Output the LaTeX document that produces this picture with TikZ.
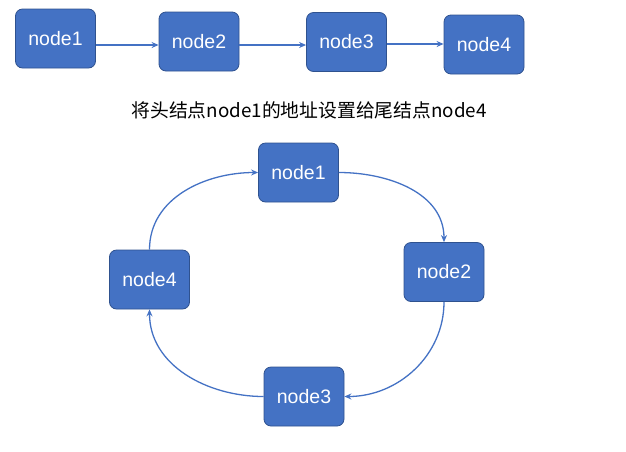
\documentclass[tikz,border=0pt]{standalone}
\usepackage{fontspec}
\setmainfont{Liberation Sans}
\newfontfamily\cjk{Noto Sans CJK SC}
\usetikzlibrary{arrows.meta}
\definecolor{boxfill}{HTML}{4472C4}
\definecolor{boxline}{HTML}{2F528F}
\tikzset{
  nodebox/.style={draw=boxline, fill=boxfill, line width=0.8pt, rounded corners=7pt,
    minimum width=80pt, minimum height=59pt, text=white, font=\fontsize{19.5}{22}\selectfont, inner sep=0pt},
  link/.style={draw=boxfill, line width=1.3pt, -{Stealth[length=7pt,width=6pt]}},
}
\begin{document}
\begin{tikzpicture}[x=1pt,y=-1pt]
\useasboundingbox (0,0) rectangle (626,451);
% top row
\node[nodebox] (a1) at (55.5,38.5) {node1};
\node[nodebox] (a2) at (199,41.5) {node2};
\node[nodebox] (a3) at (346.5,42) {node3};
\node[nodebox] (a4) at (484,44.5) {node4};
\draw[link] (a1.east |- 0,45) -- (a2.west |- 0,45);
\draw[link] (a2.east |- 0,45) -- (a3.west |- 0,45);
\draw[link] (a3.east |- 0,44) -- (a4.west |- 0,44);
% label
\node[font=\cjk\fontsize{18.8}{21}\selectfont, text=black] (lbl) at (309,110) {将头结点node1的地址设置给尾结点node4};
% ring
\node[nodebox] (b1) at (298.5,172.5) {node1};
\node[nodebox] (b2) at (444,272) {node2};
\node[nodebox] (b3) at (304,396.5) {node3};
\node[nodebox] (b4) at (149.5,279.5) {node4};
\draw[link] (b1.east) to[out=0,in=90] (b2.north);
\draw[link] (b2.south) to[out=-90,in=0] (b3.east);
\draw[link] (b3.west) to[out=180,in=-90] (b4.south);
\draw[link] (b4.north) to[out=90,in=180] (b1.west);
\end{tikzpicture}
\end{document}
